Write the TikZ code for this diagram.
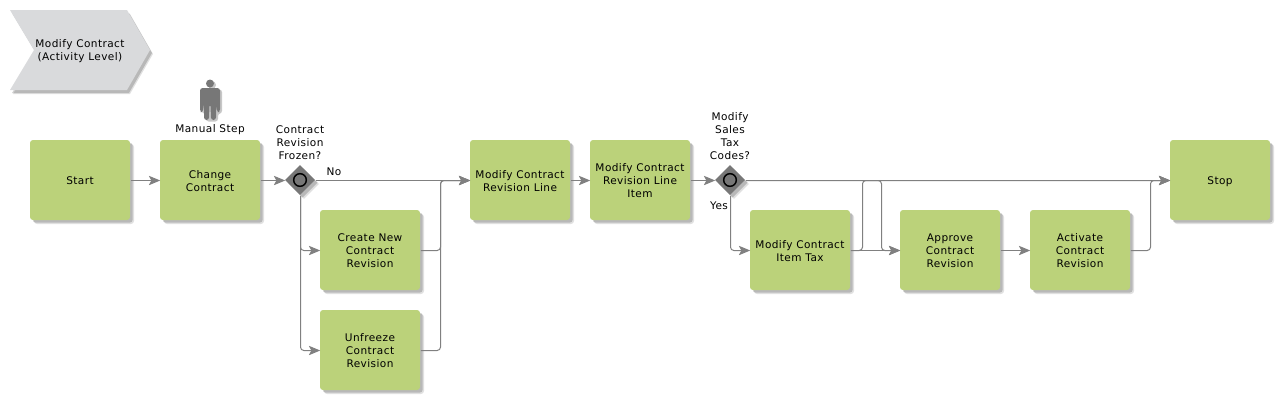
\documentclass[tikz,border=0pt]{standalone}
\usepackage{fontspec}
\setmainfont[LetterSpace=4]{DejaVu Sans}
\usetikzlibrary{arrows.meta,shapes.geometric,shadows}
\definecolor{boxgreen}{HTML}{BBD27A}
\definecolor{flowgray}{HTML}{808080}
\definecolor{gategray}{HTML}{777777}
\definecolor{chevgray}{HTML}{D9DADC}
\newcommand\tasktext[1]{\vbox{\kern3.5pt\hbox{\begin{tabular}{@{}c@{}}#1\end{tabular}}}}
\tikzset{
  softshadow/.style={general shadow={shadow xshift=3pt,shadow yshift=-3pt,fill=black,opacity=.12},
                     general shadow={shadow xshift=2pt,shadow yshift=-2pt,fill=black,opacity=.18}},
  taskbox/.style={rectangle,rounded corners=2.25pt,fill=boxgreen,minimum width=75pt,minimum height=60pt,inner sep=0pt,
                  font=\fontsize{7.9pt}{9.75pt}\selectfont,softshadow},
  gate/.style={diamond,aspect=1,fill=gategray,minimum size=22.5pt,inner sep=0pt,softshadow},
  gatering/.style={circle,draw=black,line width=1.1pt,fill=gategray,minimum size=9.5pt,inner sep=0pt},
  lbl/.style={align=center,inner sep=0pt,font=\fontsize{7.9pt}{9.75pt}\selectfont},
  flow/.style={draw=flowgray,line width=.75pt,rounded corners=2.5pt,-{Stealth[length=8.5pt,width=7pt,inset=1.8pt,flowgray]}},
}
\begin{document}
\begin{tikzpicture}[x=0.75pt,y=-0.75pt]
\useasboundingbox (0,0) rectangle (1280,400);
% chevron
\fill[black,opacity=.12] (13,14) -- (130,14) -- (153,54) -- (130,94) -- (13,94) -- (37,54) -- cycle;
\fill[black,opacity=.18] (12,13) -- (129,13) -- (152,53) -- (129,93) -- (12,93) -- (36,53) -- cycle;
\fill[chevgray] (10,10) -- (127,10) -- (150,50) -- (127,90) -- (10,90) -- (34,50) -- cycle;
\node[lbl] (title) at (80,51.5) {Modify Contract\\(Activity Level)};
% person
\begin{scope}[shift={(2,1.5)},fill=black,opacity=.22]
\fill (210,83.5) circle (4);
\fill[rounded corners=2pt] (200,88) -- (220,88) -- (220,112) -- (216,112) -- (216,120) -- (204,120) -- (204,112) -- (200,112) -- cycle;
\end{scope}
\fill[gategray] (210,83.5) circle (4);
\fill[gategray,rounded corners=2pt] (200,88) -- (220,88) -- (220,112) -- (217,112) -- (216,103) -- (216,120) -- (211,120) -- (210.5,104) -- (209.5,104) -- (209,120) -- (204,120) -- (204,103) -- (203,112) -- (200,112) -- cycle;
% tasks
\node[taskbox] (start) at (80,180) {\tasktext{Start}};
\node[taskbox] (change) at (210,180) {\tasktext{Change\\Contract}};
\node[taskbox] (create) at (370,250) {\tasktext{Create New\\Contract\\Revision}};
\node[taskbox] (unfreeze) at (370,350) {\tasktext{Unfreeze\\Contract\\Revision}};
\node[taskbox] (revline) at (520,180) {\tasktext{Modify Contract\\Revision Line}};
\node[taskbox] (revitem) at (640,180) {\tasktext{Modify Contract\\Revision Line\\Item}};
\node[taskbox] (tax) at (800,250) {\tasktext{Modify Contract\\Item Tax}};
\node[taskbox] (approve) at (950,250) {\tasktext{Approve\\Contract\\Revision}};
\node[taskbox] (activate) at (1080,250) {\tasktext{Activate\\Contract\\Revision}};
\node[taskbox] (stop) at (1220,180) {\tasktext{Stop}};
% gateways
\node[gate] (g1) at (300,180) {};
\node[gatering] (r1) at (300,180) {};
\node[gate] (g2) at (730,180) {};
\node[gatering] (r2) at (730,180) {};
% labels
\node[lbl] (manual) at (210,129.5) {Manual Step};
\node[lbl] (q1) at (300,143) {Contract\\Revision\\Frozen?};
\node[lbl] (q2) at (730,136.5) {Modify\\Sales\\Tax\\Codes?};
\node[lbl] (no) at (334,171.5) {No};
\node[lbl] (yes) at (719,205.5) {Yes};
% junctions
\coordinate (j1) at (440,180);
\coordinate (j2) at (862,180);
\coordinate (j3) at (881,180);
\coordinate (j4) at (1150,180);
% connectors
\begin{scope}[transform canvas={shift={(0.375pt,-0.375pt)}}]
\draw[flow] (start.east) -- (change.west);
\draw[flow] (change.east) -- (g1.west);
\draw[flow] (g1.east) -- (revline.west);
\draw[flow] (g1.south) |- (create.west);
\draw[flow] (g1.south) |- (unfreeze.west);
\draw[flow] (create.east) -| (j1) -- (revline.west);
\draw[flow] (unfreeze.east) -| (j1) -- (revline.west);
\draw[flow] (revline.east) -- (revitem.west);
\draw[flow] (revitem.east) -- (g2.west);
\draw[flow] (g2.east) -- (stop.west);
\draw[flow] (g2.south) |- (tax.west);
\draw[flow] (tax.east) -- (approve.west);
\draw[flow] (g2.east) -- (j3) |- (approve.west);
\draw[flow] (tax.east) -| (j2) -- (stop.west);
\draw[flow] (approve.east) -- (activate.west);
\draw[flow] (activate.east) -| (j4) -- (stop.west);
\end{scope}
\end{tikzpicture}
\end{document}
